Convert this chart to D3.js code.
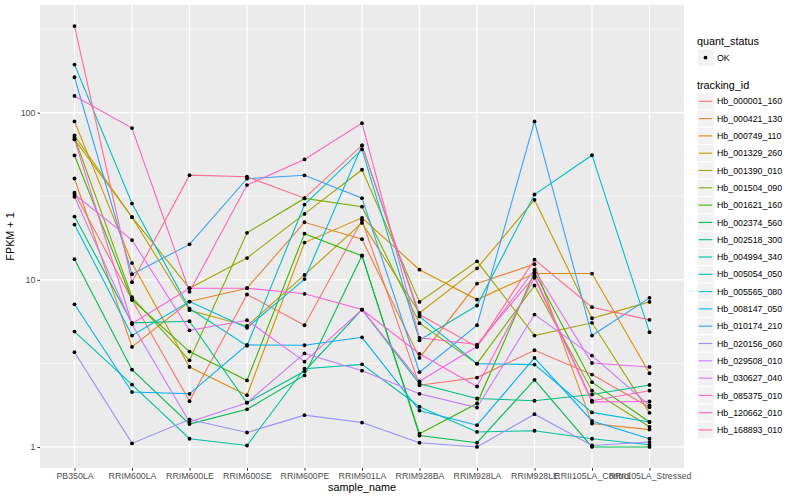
<!DOCTYPE html>
<html><head><meta charset="utf-8">
<script src="https://cdn.jsdelivr.net/npm/d3@7"></script>
<style>body{margin:0;background:#fff}svg{display:block}text{font-family:"Liberation Sans",Arial,sans-serif}</style>
</head><body>
<svg id="chart" width="800" height="500"></svg>
<script>
const categories = ["PB350LA","RRIM600LA","RRIM600LE","RRIM600SE","RRIM600PE","RRIM901LA","RRIM928BA","RRIM928LA","RRIM928LE","RRII105LA_Control","RRII105LA_Stressed"];
const trackingIds = ["Hb_000001_160","Hb_000421_130","Hb_000749_110","Hb_001329_260","Hb_001390_010","Hb_001504_090","Hb_001621_160","Hb_002374_560","Hb_002518_300","Hb_004994_340","Hb_005054_050","Hb_005565_080","Hb_008147_050","Hb_010174_210","Hb_020156_060","Hb_029508_010","Hb_030627_040","Hb_085375_010","Hb_120662_010","Hb_168893_010"];
const lineColors = ["#F8766D","#EA8331","#D89000","#C09B00","#A3A500","#7CAE00","#39B600","#00BB4E","#00BF7D","#00C1A3","#00BFC4","#00BAE0","#00B0F6","#35A2FF","#9590FF","#C77CFF","#E76BF3","#FA62DB","#FF62BC","#FF6C91"];
const yTicks = [1, 10, 100];
const quantStatus = ["OK"];

// FPKM + 1 per sample, in category order
const hb_000001_160 = [33.2, 7.59, 1.88, 8.17, 5.35, 22.7, 2.34, 2.60, 3.79, 2.71, 1.73];
const hb_000421_130 = [40.4, 3.97, 7.41, 8.91, 22.1, 17.5, 3.41, 9.50, 12.4, 1.38, 1.27];
const hb_000749_110 = [88.7, 12.6, 3.01, 2.04, 16.7, 23.5, 11.5, 7.62, 10.9, 10.9, 2.76];
const hb_001329_260 = [69.2, 23.7, 6.58, 5.30, 10.7, 21.9, 6.34, 11.7, 30.1, 5.89, 7.38];
const hb_001390_010 = [73.1, 23.7, 8.91, 13.5, 24.8, 45.6, 7.38, 12.9, 4.64, 5.53, 1.60];
const hb_001504_090 = [71.1, 7.87, 3.30, 19.1, 30.7, 27.4, 5.50, 3.15, 9.25, 2.17, 1.32];
const hb_001621_160 = [55.5, 7.60, 3.72, 2.50, 18.9, 13.9, 1.20, 1.82, 11.1, 2.44, 1.41];
const hb_002374_560 = [13.3, 2.90, 1.37, 1.68, 2.68, 14.0, 1.17, 1.06, 2.52, 1.00, 1.00];
const hb_002518_300 = [23.9, 5.53, 5.65, 1.84, 2.84, 6.64, 2.39, 1.95, 1.89, 2.06, 2.35];
const hb_004994_340 = [4.90, 2.36, 1.12, 1.02, 2.94, 3.12, 1.74, 1.23, 1.25, 1.12, 1.03];
const hb_005054_050 = [194, 28.6, 6.73, 4.03, 28.2, 60.3, 4.35, 7.02, 32.4, 55.7, 4.86];
const hb_005565_080 = [21.4, 4.64, 7.41, 5.16, 10.1, 63.7, 6.03, 3.15, 3.11, 1.61, 1.41];
const hb_008147_050 = [7.14, 2.13, 2.08, 4.08, 4.06, 4.53, 1.65, 1.35, 3.41, 1.43, 1.12];
const hb_010174_210 = [163, 10.8, 16.3, 40.3, 42.2, 30.8, 2.80, 5.35, 88.7, 4.64, 7.80];
const hb_020156_060 = [3.69, 1.05, 1.46, 1.22, 1.55, 1.40, 1.06, 1.00, 1.57, 1.02, 1.07];
const hb_029508_010 = [31.4, 5.42, 1.41, 1.84, 3.63, 2.86, 2.08, 1.72, 6.20, 3.52, 1.77];
const hb_030627_040 = [32.4, 17.3, 4.99, 5.73, 3.24, 6.64, 2.47, 3.99, 11.5, 3.18, 3.01];
const hb_085375_010 = [69.2, 5.47, 8.91, 8.91, 8.25, 6.64, 3.61, 2.30, 10.3, 1.86, 1.87];
const hb_120662_010 = [126, 80.9, 8.48, 36.9, 52.5, 86.6, 4.50, 4.10, 10.5, 1.89, 2.17];
const hb_168893_010 = [330, 9.68, 42.3, 41.4, 30.8, 63.7, 6.20, 3.97, 13.2, 6.86, 5.76];

const seriesValues = [hb_000001_160, hb_000421_130, hb_000749_110, hb_001329_260, hb_001390_010, hb_001504_090, hb_001621_160, hb_002374_560, hb_002518_300, hb_004994_340, hb_005054_050, hb_005565_080, hb_008147_050, hb_010174_210, hb_020156_060, hb_029508_010, hb_030627_040, hb_085375_010, hb_120662_010, hb_168893_010];

const series = trackingIds.map((id, i) => ({id, color: lineColors[i], values: seriesValues[i].map((v, j) => ({cat: categories[j], v}))}));

const svg = d3.select("#chart");
const P = {l: 40, r: 684, t: 5, b: 468};

const allV = seriesValues.flat();
const lmin = Math.log10(d3.min(allV)), lmax = Math.log10(d3.max(allV));
const ex = (lmax - lmin) * 0.05;
const y = d3.scaleLog().domain([Math.pow(10, lmin - ex), Math.pow(10, lmax + ex)]).range([P.b, P.t]);
const x = d3.scalePoint().domain(categories).range([P.l, P.r]).padding(0.6);
const color = d3.scaleOrdinal().domain(trackingIds).range(lineColors);

// panel
svg.append("rect").attr("x", P.l).attr("y", P.t).attr("width", P.r - P.l).attr("height", P.b - P.t).attr("fill", "#EBEBEB");
const g = svg.append("g");
const lo = Math.floor(lmin - ex), hi = Math.ceil(lmax + ex);
for (let k = lo; k <= hi; k++) {
  const mv = Math.pow(10, k + 0.5);
  if (mv > y.domain()[0] && mv < y.domain()[1])
    g.append("line").attr("x1", P.l).attr("x2", P.r).attr("y1", y(mv)).attr("y2", y(mv)).attr("stroke", "#fff").attr("stroke-width", 0.6);
}
yTicks.forEach(t => g.append("line").attr("x1", P.l).attr("x2", P.r).attr("y1", y(t)).attr("y2", y(t)).attr("stroke", "#fff").attr("stroke-width", 1.2));
categories.forEach(c => g.append("line").attr("x1", x(c)).attr("x2", x(c)).attr("y1", P.t).attr("y2", P.b).attr("stroke", "#fff").attr("stroke-width", 1.2));

// lines
const line = d3.line().x(d => x(d.cat)).y(d => y(d.v));
svg.append("g").selectAll("path").data(series).join("path")
  .attr("d", d => line(d.values)).attr("fill", "none").attr("stroke", d => color(d.id)).attr("stroke-width", 1.1);
// points
svg.append("g").selectAll("circle").data(series.flatMap(s => s.values)).join("circle")
  .attr("cx", d => x(d.cat)).attr("cy", d => y(d.v)).attr("r", 1.9).attr("fill", "#000");

// axes
const yAxis = d3.axisLeft(y).tickValues(yTicks).tickFormat(d3.format("d")).tickSize(2.7).tickPadding(2);
const ya = svg.append("g").attr("transform", `translate(${P.l},0)`).call(yAxis);
const xAxis = d3.axisBottom(x).tickSize(2.7).tickPadding(2);
const xa = svg.append("g").attr("transform", `translate(0,${P.b})`).call(xAxis);
[ya, xa].forEach(a => {
  a.select(".domain").remove();
  a.selectAll(".tick line").attr("stroke", "#333");
  a.selectAll(".tick text").attr("fill", "#4D4D4D").style("font-size", "8.8px");
});

svg.append("text").attr("x", (P.l + P.r) / 2).attr("y", 491).attr("text-anchor", "middle").style("font-size", "10.8px").attr("fill", "#000").text("sample_name");
svg.append("text").attr("transform", `translate(14,${(P.t + P.b) / 2}) rotate(-90)`).attr("text-anchor", "middle").style("font-size", "10.8px").attr("fill", "#000").text("FPKM + 1");

// legend
const L = svg.append("g");
L.append("text").attr("x", 697).attr("y", 44.5).style("font-size", "10.8px").text("quant_status");
quantStatus.forEach((q, i) => {
  L.append("rect").attr("x", 697).attr("y", 49 + i * 17.3).attr("width", 17).attr("height", 17.3).attr("fill", "#F2F2F2").attr("stroke", "#fff");
  L.append("circle").attr("cx", 705.5).attr("cy", 57.6 + i * 17.3).attr("r", 1.9).attr("fill", "#000");
  L.append("text").attr("x", 717).attr("y", 60.7 + i * 17.3).style("font-size", "8.8px").text(q);
});
L.append("text").attr("x", 697).attr("y", 89).style("font-size", "10.8px").text("tracking_id");
trackingIds.forEach((id, i) => {
  const cy = 101.3 + i * 17.3;
  L.append("rect").attr("x", 697).attr("y", cy - 8.65).attr("width", 17).attr("height", 17.3).attr("fill", "#F2F2F2").attr("stroke", "#fff");
  L.append("line").attr("x1", 698.7).attr("x2", 712.3).attr("y1", cy).attr("y2", cy).attr("stroke", color(id)).attr("stroke-width", 1.1);
  L.append("text").attr("x", 717).attr("y", cy + 3.1).style("font-size", "8.8px").text(id);
});
</script>
</body></html>
